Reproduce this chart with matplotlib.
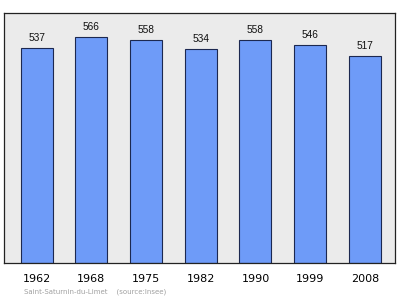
import matplotlib.pyplot as plt
import numpy as np

years = ["1962", "1968", "1975", "1982", "1990", "1999", "2008"]
population = [537, 566, 558, 534, 558, 546, 517]

fig = plt.figure(figsize=(4, 2.99), dpi=100)
ax = fig.add_axes([4.3 / 400, 36 / 299, 390.7 / 400, 249.7 / 299])
ax.set_facecolor("#ebebeb")

x = np.arange(len(years))
ax.bar(x, population, width=0.585, color="#6e9bf8", edgecolor="#1c2850", linewidth=0.8, zorder=2)

for xi, v in zip(x, population):
    ax.text(xi, v + 25, str(v), ha="center", va="center", fontsize=7.3,
            family="Liberation Sans", color="#111111")

ax.set_xlim(-0.59, 6.55)
ax.set_ylim(0, 624)
ax.set_xticks(x)
ax.set_xticklabels(years, fontsize=8)
ax.tick_params(axis="x", length=0, pad=8)
ax.set_yticks([])
for s in ax.spines.values():
    s.set_color("#222222")
    s.set_linewidth(0.9)

fig.text(24 / 400, 1 - 292 / 299, "Saint-Saturnin-du-Limet    (source:Insee)",
         fontsize=5, color="#a0a0a0", va="center", ha="left")

fig.savefig("out.png", dpi=100)
